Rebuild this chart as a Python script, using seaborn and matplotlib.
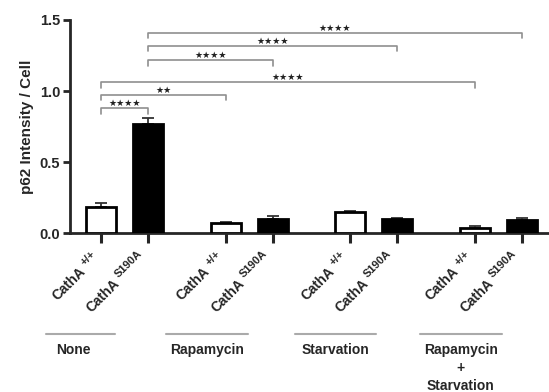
import numpy as np
import pandas as pd
import matplotlib
matplotlib.use("Agg")
import matplotlib.pyplot as plt
import matplotlib.transforms as mtransforms
import seaborn as sns

# ---- data ----
treatments = ["None", "Rapamycin", "Starvation", "Rapamycin\n+\nStarvation"]
gene = "CathA"
alleles = ["+/+", "S190A"]
wt_mean = [0.185, 0.075, 0.150, 0.040]
wt_sem = [0.030, 0.008, 0.008, 0.010]
mut_mean = [0.770, 0.100, 0.100, 0.094]
mut_sem = [0.040, 0.020, 0.006, 0.013]
# comparisons: (bar index a, bar index b, label)
comparisons = [(1, 7, "★★★★"), (1, 5, "★★★★"), (1, 3, "★★★★"),
               (0, 6, "★★★★"), (0, 2, "★★"), (0, 1, "★★★★")]
bracket_levels = [1.41, 1.32, 1.22, 1.065, 0.975, 0.88]

sns.set_theme(style="ticks")
plt.rcParams["font.family"] = ["Liberation Sans", "DejaVu Sans"]
plt.rcParams["font.weight"] = "bold"

group_gap = 2.65
rows = []
for g, t in enumerate(treatments):
    for b, (m, s, gen) in enumerate([(wt_mean[g], wt_sem[g], "WT"), (mut_mean[g], mut_sem[g], "S190A")]):
        rows.append(dict(pos=g * group_gap + b, value=m, sem=s, genotype=gen,
                         allele=alleles[b]))
df = pd.DataFrame(rows)

fig = plt.figure(figsize=(5.49, 3.92), dpi=100)
ax = fig.add_axes([0.1275, 0.4048, 0.8725, 0.5442])

sns.barplot(data=df, x="pos", y="value", hue="genotype",
            palette={"WT": "white", "S190A": "black"}, native_scale=True,
            dodge=False, width=0.64, edgecolor="black", linewidth=2.0,
            errorbar=None, legend=False, ax=ax, zorder=3)

ax.errorbar(df["pos"], df["value"], yerr=[np.zeros(len(df)), df["sem"]],
            fmt="none", ecolor="#333333", elinewidth=1.3, capsize=4.5,
            capthick=1.3, zorder=2)

ax.set_xlim(-0.66, 9.53)
ax.set_ylim(0, 1.5)
ax.set_yticks([0, 0.5, 1.0, 1.5])
ax.set_yticklabels(["0.0", "0.5", "1.0", "1.5"], fontsize=10.5, fontweight="bold")
ax.set_xticks(df["pos"])
ax.set_xticklabels([""] * len(df))
ax.tick_params(axis="x", length=7, width=2.2, pad=4)
ax.tick_params(axis="y", length=5, width=2.0, pad=2)
ax.set_xlabel("")
ax.set_ylabel("p62 Intensity / Cell", fontsize=11, fontweight="bold", labelpad=4)
for sp in ["top", "right"]:
    ax.spines[sp].set_visible(False)
for sp in ["left", "bottom"]:
    ax.spines[sp].set_linewidth(2.0)

# rotated tick labels with superscripts
renderer = fig.canvas.get_renderer()
xtrans = ax.get_xaxis_transform()
u = np.array([np.cos(np.pi / 4), np.sin(np.pi / 4)])
n = np.array([-np.sin(np.pi / 4), np.cos(np.pi / 4)])
sup_base = np.array([-5.0, -21.0])  # pixels, relative to tick foot
for p, al in zip(df["pos"], df["allele"]):
    ts = ax.text(p, 0, al, fontsize=8, fontweight="bold", ha="right",
                 va="baseline", rotation=0, transform=xtrans)
    w = ts.get_window_extent(renderer).width
    ts.set_rotation(45)
    ts.set_rotation_mode("anchor")
    ts.set_transform(xtrans + mtransforms.ScaledTranslation(
        sup_base[0] / 100, sup_base[1] / 100, fig.dpi_scale_trans))
    main = sup_base - (w + 3.5) * u - 5.5 * n
    ax.text(p, 0, gene, fontsize=10, fontweight="bold", ha="right",
            va="baseline", rotation=45, rotation_mode="anchor",
            transform=xtrans + mtransforms.ScaledTranslation(
                main[0] / 100, main[1] / 100, fig.dpi_scale_trans))

# significance brackets
pos = df["pos"].values
tip = 0.04
for (a, b, lab), yl in zip(comparisons, bracket_levels):
    xa, xb = pos[a], pos[b]
    ax.plot([xa, xa, xb, xb], [yl - tip, yl, yl, yl - tip], color="#8f8f8f",
            lw=1.2, clip_on=False, zorder=4)
    ax.text((xa + xb) / 2, yl + 0.014, lab, ha="center", va="baseline",
            fontsize=6.5, family="DejaVu Sans", color="#222222")

# group labels below
spans = [(-1.16, 0.29), (-1.26, 0.47), (-1.17, 0.55), (-1.16, 0.57)]
text_shift = [-0.15, 0.0, 0.0, 0.0]
for g, t in enumerate(treatments):
    x0 = g * group_gap + spans[g][0]
    x1 = g * group_gap + spans[g][1]
    ax.plot([x0, x1], [-0.472, -0.472], color="#aaaaaa", lw=1.5,
            transform=xtrans, clip_on=False)
    ax.text((x0 + x1) / 2 + text_shift[g], -0.512, t, ha="center", va="top",
            fontsize=10, fontweight="bold", linespacing=1.4, transform=xtrans)

fig.savefig("out.png", dpi=100)
